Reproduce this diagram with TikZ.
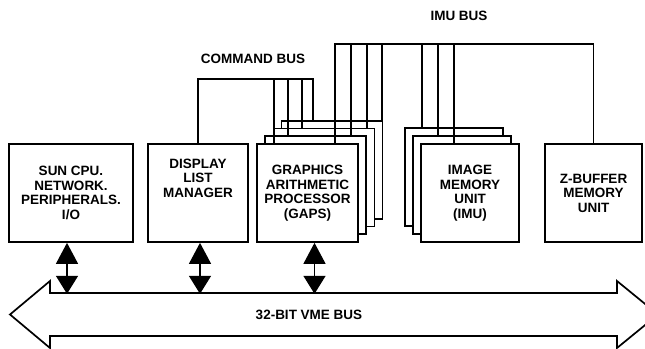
\documentclass[tikz,border=0pt]{standalone}
\usepackage{fontspec}
\setmainfont{Liberation Sans}
\usetikzlibrary{arrows.meta,positioning}

\begin{document}
\begin{tikzpicture}[x=1pt, y=-1pt, line width=1.7pt,
  font=\bfseries\fontsize{13.5}{14.5}\selectfont,
  unit/.style={draw, fill=white, minimum height=98pt, inner sep=0pt, align=center},
  card/.style={unit, minimum width=101pt},
  vmelink/.style={{Triangle[length=21pt,width=22pt]}-{Triangle[length=18pt,width=22pt]}, line width=1.3pt}]
  \useasboundingbox (0,0) rectangle (645,348);
  \clip (0,0) rectangle (645,348);

  % GAPS boards, back to front
  \node[card] (gapsD) at (332.1,169.9) {};
  \node[card] (gapsC) at (323.9,177.6) {};
  \node[card] (gapsB) at (315.7,185.3) {};
  \node[card] (gapsA) at (307.5,193) {GRAPHICS\\ARITHMETIC\\PROCESSOR\\(GAPS)};

  % image memory boards
  \node[unit, minimum width=98pt] (imuC) at (454,177) {};
  \node[unit, minimum width=98pt] (imuB) at (462,185) {};
  \node[unit, minimum width=98pt] (imuA) at (470,193) {IMAGE\\MEMORY\\UNIT\\(IMU)};

  \node[unit, minimum width=124pt] (sun) at (71,193) {SUN CPU.\\NETWORK.\\PERIPHERALS.\\I/O};
  \node[unit, minimum width=100pt] (dlm) at (198,193) {};
  \node[below=15pt of dlm.north, align=center, inner sep=0pt] (dlmtext) {DISPLAY\\LIST\\MANAGER};
  \node[unit, minimum width=97pt] (zbuf) at (593.5,193) {Z-BUFFER\\MEMORY\\UNIT};

  % command bus
  \node (cmdlabel) at (253,59) {COMMAND BUS};
  \coordinate (cmdR) at (313,79);
  \draw (dlm.north) |- (cmdR) -- (cmdR |- gapsD.north);
  \foreach \n/\x in {gapsA/274, gapsB/288, gapsC/302} {
    \coordinate (drop) at (\x,79);
    \draw (drop) -- (drop |- \n.north);
  }

  % IMU bus
  \node (imulabel) at (459,16) {IMU BUS};
  \coordinate (imuL) at (335,44);
  \draw (gapsA.north -| imuL) -- (imuL) -- (imuL -| zbuf.north) -- (zbuf.north);
  \foreach \n/\x in {gapsB/351, gapsC/367, gapsD/382, imuC/422, imuB/438, imuA/454} {
    \coordinate (drop) at (\x,44);
    \draw (drop) -- (drop |- \n.north);
  }

  % 32-bit VME bus
  \draw (10,314.5) -- (50,281) -- (50,293) -- (617,293) -- (617,281) -- (658,314.5)
    -- (617,348) -- (617,336) -- (50,336) -- (50,348) -- cycle;
  \node (vmelabel) at (309,314.5) {32-BIT VME BUS};
  \foreach \n/\dx in {sun/-4, dlm/2, gapsA/7}
    \draw[vmelink] ([xshift=\dx pt]\n.south) -- ++(0,51);
\end{tikzpicture}
\end{document}
